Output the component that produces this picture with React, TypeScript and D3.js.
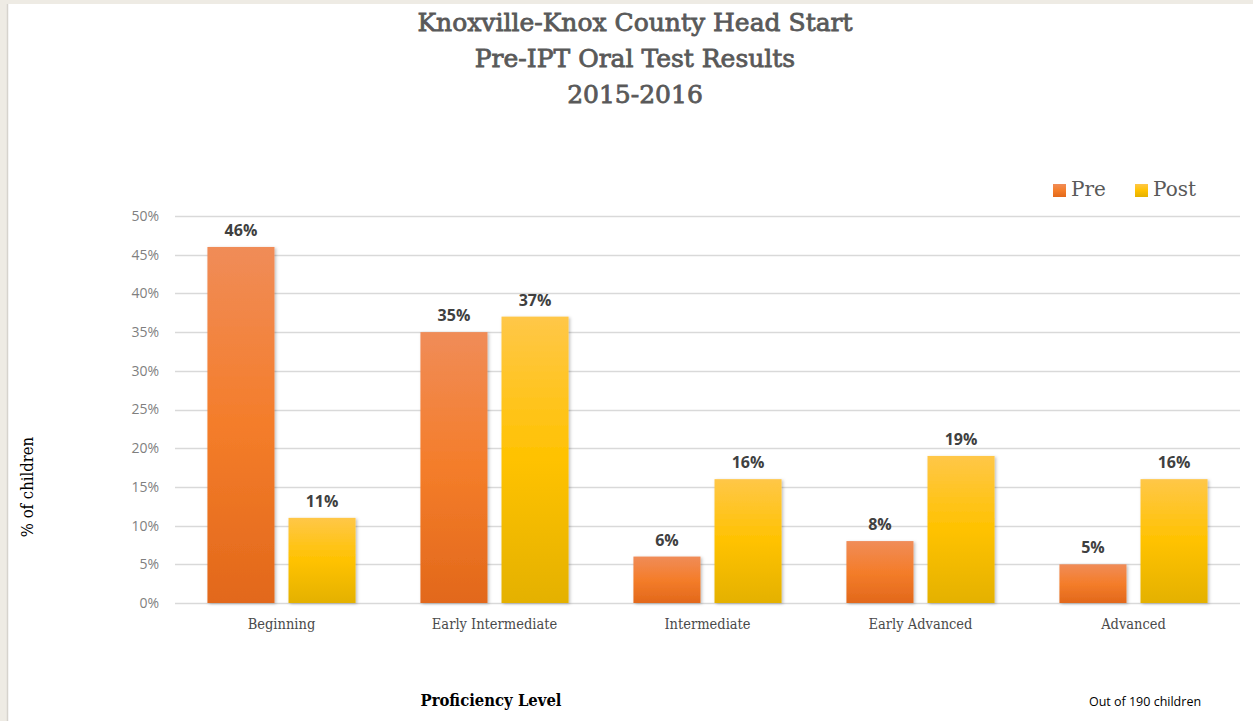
import React from 'react';
import * as d3 from 'd3';

const categories = ['Beginning', 'Early Intermediate', 'Intermediate', 'Early Advanced', 'Advanced'];
const seriesNames = ['Pre', 'Post'];
const preValues = [46, 35, 6, 8, 5];
const postValues = [11, 37, 16, 19, 16];
const yTicks = [0, 5, 10, 15, 20, 25, 30, 35, 40, 45, 50];
const titleLines = ['Knoxville-Knox County Head Start', 'Pre-IPT Oral Test Results', '2015-2016'];

const W = 1253;
const H = 721;
const margin = { left: 175, right: 13, top: 216, bottom: 118 };

const handFont = '"DejaVu Serif", serif';
const bodyFont = '"Open Sans", "Liberation Sans", sans-serif';

const App = () => {
  const x0 = d3
    .scaleBand<string>()
    .domain(categories)
    .range([margin.left, W - margin.right])
    .paddingInner(0)
    .paddingOuter(0);

  const x1 = d3
    .scaleBand<string>()
    .domain(seriesNames)
    .range([0, x0.bandwidth()])
    .paddingInner(0.173)
    .paddingOuter(0.4);

  const y = d3
    .scaleLinear()
    .domain([0, 50])
    .range([H - margin.bottom, margin.top]);

  const rows = categories.map((c, i) => ({ cat: c, values: [preValues[i], postValues[i]] }));

  return (
    <svg width={W} height={H} style={{ position: 'absolute', left: 0, top: 0 }}>
      <defs>
        <linearGradient id="gPre" x1="0" y1="0" x2="0" y2="1">
          <stop offset="0%" stopColor="#F08C58" />
          <stop offset="50%" stopColor="#F47D2A" />
          <stop offset="100%" stopColor="#E2681B" />
        </linearGradient>
        <linearGradient id="gPost" x1="0" y1="0" x2="0" y2="1">
          <stop offset="0%" stopColor="#FFC748" />
          <stop offset="50%" stopColor="#FFC200" />
          <stop offset="100%" stopColor="#E4B100" />
        </linearGradient>
        <filter id="shadow" x="-20%" y="-20%" width="140%" height="140%">
          <feDropShadow dx="1.5" dy="1" stdDeviation="1.5" floodColor="#000" floodOpacity="0.25" />
        </filter>
      </defs>

      {/* page background + slide panel */}
      <rect x={0} y={0} width={W} height={H} fill="#EEEBE4" />
      <rect x={7} y={4} width={W - 7} height={H - 4} fill="#ffffff" />
      <line x1={7.5} x2={7.5} y1={4} y2={H} stroke="#d6d3cd" strokeWidth={1.5} />

      {/* title */}
      <g
        fill="#595959"
        stroke="#595959"
        strokeWidth={0.8}
        fontFamily={handFont}
        fontSize={25}
        textAnchor="middle"
      >
        {titleLines.map((t, i) => (
          <text key={t} x={635} y={31 + i * 36}>
            {t}
          </text>
        ))}
      </g>

      {/* gridlines + y ticks */}
      <g>
        {yTicks.map((t) => (
          <g key={t}>
            <line
              x1={margin.left}
              x2={W - margin.right}
              y1={Math.round(y(t)) + 0.5}
              y2={Math.round(y(t)) + 0.5}
              stroke="#D9D9D9"
              strokeWidth={1.3}
            />
            <text
              x={159}
              y={y(t)}
              dy="0.35em"
              textAnchor="end"
              fontFamily={bodyFont}
              fontSize={14}
              fill="#7F7F7F"
            >
              {t}%
            </text>
          </g>
        ))}
      </g>

      {/* bars */}
      {rows.map((r) => (
        <g key={r.cat} transform={`translate(${x0(r.cat)},0)`}>
          {r.values.map((v, j) => {
            const bx = x1(seriesNames[j]) as number;
            return (
              <g key={seriesNames[j]}>
                <rect
                  x={bx}
                  y={y(v)}
                  width={x1.bandwidth()}
                  height={y(0) - y(v)}
                  fill={j === 0 ? 'url(#gPre)' : 'url(#gPost)'}
                  filter="url(#shadow)"
                />
                <text
                  x={bx + x1.bandwidth() / 2}
                  y={y(v) - 11}
                  textAnchor="middle"
                  fontFamily={bodyFont}
                  fontWeight="bold"
                  fontSize={16}
                  fill="#404040"
                >
                  {v}%
                </text>
              </g>
            );
          })}
          <text
            x={x0.bandwidth() / 2}
            y={629}
            textAnchor="middle"
            fontFamily={handFont}
            fontSize={14.5}
            style={{ fontStretch: 'condensed' }}
            fill="#4A4A4A"
          >
            {r.cat}
          </text>
        </g>
      ))}

      {/* legend */}
      <g fontFamily={handFont} fontSize={20} fill="#595959">
        <rect x={1053} y={184} width={13} height={13} fill="url(#gPre)" />
        <text x={1071} y={196}>Pre</text>
        <rect x={1135} y={184} width={13} height={13} fill="url(#gPost)" />
        <text x={1153} y={196}>Post</text>
      </g>

      {/* axis titles */}
      <text
        transform="translate(33,487) rotate(-90)"
        textAnchor="middle"
        fontFamily={handFont}
        fontSize={16.5}
        style={{ fontStretch: 'condensed' }}
        fill="#000"
      >
        % of children
      </text>
      <text
        x={491}
        y={706}
        textAnchor="middle"
        fontFamily={handFont}
        fontWeight="bold"
        fontSize={16.5}
        style={{ fontStretch: 'condensed' }}
        fill="#000"
      >
        Proficiency Level
      </text>
      <text x={1145} y={706} textAnchor="middle" fontFamily={bodyFont} fontSize={12.5} fill="#000">
        Out of 190 children
      </text>
    </svg>
  );
};

export default App;
